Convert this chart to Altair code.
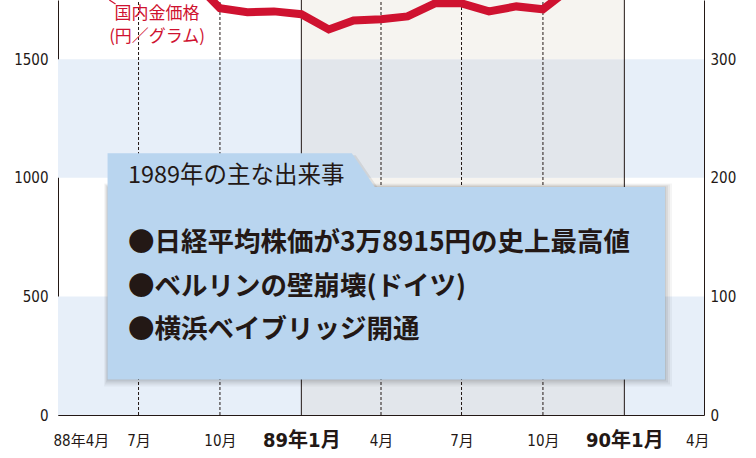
import altair as alt
import pandas as pd

# 国内金価格（円／グラム）の月次推移
months = [
    "1988-04-01", "1988-05-01", "1988-06-01", "1988-07-01", "1988-08-01",
    "1988-09-01", "1988-10-01", "1988-11-01", "1988-12-01", "1989-01-01",
    "1989-02-01", "1989-03-01", "1989-04-01", "1989-05-01", "1989-06-01",
    "1989-07-01", "1989-08-01", "1989-09-01", "1989-10-01", "1989-11-01",
    "1989-12-01", "1990-01-01", "1990-02-01", "1990-03-01", "1990-04-01",
]
gold_price = [
    1930, 1900, 1880, 1850, 1840, 1830, 1715, 1698, 1702, 1690,
    1626, 1664, 1669, 1681, 1736, 1736, 1702, 1723, 1711, 1800,
    1880, 1900, 1950, 1990, 1970,
]

# 目盛り
quarter_ticks = ["1988-04-01", "1988-07-01", "1988-10-01", "1989-01-01", "1989-04-01",
                 "1989-07-01", "1989-10-01", "1990-01-01", "1990-04-01"]
quarter_labels = ["88年4月", "7月", "10月", "89年1月", "4月", "7月", "10月", "90年1月", "4月"]
year_starts = ["1989-01-01", "1990-01-01"]
left_ticks = [0, 500, 1000, 1500]
right_ticks = [0, 100, 200, 300]

# 1989年の出来事
event_title = "1989年の主な出来事"
events = [
    "●日経平均株価が3万8915円の史上最高値",
    "●ベルリンの壁崩壊(ドイツ)",
    "●横浜ベイブリッジ開通",
]

X_START, X_END = "1988-04-01", "1990-04-01"
Y_MAX, Y2_MAX = 1750, 350

INK = "#231815"
RED = "#cf1230"
BLUE_BAND = "#e7eff9"
SHADE_ON_BLUE = "#e2e6eb"
SHADE_ON_WHITE = "#f6f4f0"
BOX = "#b9d5ef"
NUM_FONT = "Liberation Sans Narrow, DejaVu Sans Condensed, Noto Sans CJK JP, sans-serif"
JP_FONT = "Noto Sans CJK JP"


def ms(s):
    return int(pd.Timestamp(s, tz="UTC").timestamp() * 1000)


x_scale = alt.Scale(type="utc", domain=[ms(X_START), ms(X_END)])
y_scale = alt.Scale(domain=[0, Y_MAX], nice=False, zero=True)

label_array = "[" + ",".join("'" + s + "'" for s in quarter_labels) + "]"
is_jan = "utcmonth(datum.value) == 0"
x_axis = alt.Axis(
    values=[ms(d) for d in quarter_ticks],
    labelExpr=label_array + "[round(((utcyear(datum.value) - 1988) * 12 + utcmonth(datum.value) - 3) / 3)]",
    ticks=False, grid=False, title=None,
    domainColor=INK, domainWidth=1,
    labelFont=NUM_FONT, labelColor=INK,
    labelFontSize={"expr": is_jan + " ? 20 : 15"},
    labelFontWeight={"expr": is_jan + " ? 'bold' : 'normal'"},
    labelBaseline="middle", labelPadding=25,
    labelFlush=True, labelFlushOffset=5,
)
y_axis = alt.Axis(
    values=left_ticks, orient="left", ticks=False, grid=False, title=None, format="d",
    domainColor=INK, domainWidth=1,
    labelFont=NUM_FONT, labelColor=INK, labelFontSize=15, labelPadding=10,
)


def X(field):
    return alt.X(field, type="temporal", scale=x_scale, axis=x_axis, title=None)


def Y(field):
    return alt.Y(field, type="quantitative", scale=y_scale, axis=y_axis, title=None)


# 背景の帯と1989年の網掛け
band_rows = [
    (X_START, X_END, 0, 500, "blue"),
    (X_START, X_END, 1000, 1500, "blue"),
    (year_starts[0], year_starts[1], 0, 500, "shade_b"),
    (year_starts[0], year_starts[1], 500, 1000, "shade_w"),
    (year_starts[0], year_starts[1], 1000, 1500, "shade_b"),
    (year_starts[0], year_starts[1], 1500, Y_MAX, "shade_w"),
]
bands_df = pd.DataFrame(
    [{"x0": ms(a), "x1": ms(b), "y0": c, "y1": d, "kind": k} for a, b, c, d, k in band_rows]
)
bands = alt.Chart(bands_df).mark_rect().encode(
    x=X("x0"), x2="x1",
    y=Y("y0"), y2="y1",
    color=alt.Color("kind:N", legend=None,
                    scale=alt.Scale(domain=["blue", "shade_b", "shade_w"],
                                    range=[BLUE_BAND, SHADE_ON_BLUE, SHADE_ON_WHITE])),
)

# 四半期の破線と年始の実線
dash_df = pd.DataFrame({"t": [ms(d) for d in quarter_ticks[1:-1] if d not in year_starts],
                        "lo": 0, "hi": Y_MAX})
year_df = pd.DataFrame({"t": [ms(d) for d in year_starts], "lo": 0, "hi": Y_MAX})
dashed = alt.Chart(dash_df).mark_rule(color=INK, strokeWidth=1, strokeDash=[3, 2]).encode(
    x=X("t"), y=Y("lo"), y2="hi")
solid = alt.Chart(year_df).mark_rule(color=INK, strokeWidth=1).encode(
    x=X("t"), y=Y("lo"), y2="hi")

# 金価格の折れ線
gold_df = pd.DataFrame({"t": [ms(m) for m in months], "price": gold_price})
gold_line = alt.Chart(gold_df).mark_line(color=RED, strokeWidth=8, clip=True).encode(
    x=X("t"), y=Y("price"))

gold_label_df = pd.DataFrame({"t": [ms("1988-07-22")] * 2, "v": [1690, 1593],
                              "txt": ["国内金価格", "(円／グラム)"]})
gold_label = alt.Chart(gold_label_df).mark_text(
    color=RED, font=JP_FONT, fontSize=17, align="center", baseline="middle").encode(
    x=X("t"), y=Y("v"), text="txt:N")
leader_df = pd.DataFrame({"t0": [ms("1988-05-29")], "t1": [ms("1988-06-05")],
                          "v0": [Y_MAX], "v1": [1733]})
leader = alt.Chart(leader_df).mark_rule(color=RED, strokeWidth=1.2, clip=True).encode(
    x=X("t0"), x2="t1", y=Y("v0"), y2="v1")

# 出来事の囲み
BOX_L, BOX_R = ms("1988-05-27"), ms("1990-02-16")
TAB_SLANT0, TAB_SLANT1 = ms("1989-02-27"), ms("1989-03-25")
TAB_TOP, BODY_TOP, BODY_BOTTOM = 1104, 961, 150

body_df = pd.DataFrame({"x0": [BOX_L], "x1": [BOX_R], "y0": [BODY_BOTTOM], "y1": [BODY_TOP]})
tab_df = pd.DataFrame({"t": [BOX_L, TAB_SLANT0, TAB_SLANT1],
                       "top": [TAB_TOP, TAB_TOP, BODY_TOP],
                       "bottom": [BODY_TOP, BODY_TOP, BODY_TOP]})

shadows = []
for dx, dy, op in [(1, 1, 0.07), (3, 3, 0.06), (5, 5, 0.05), (7, 7, 0.04)]:
    shadows.append(
        alt.Chart(body_df).mark_rect(color="#000000", opacity=op,
                                     xOffset=-dx / 2, x2Offset=dx, yOffset=dy, y2Offset=-dx / 2).encode(
            x=X("x0"), x2="x1", y=Y("y0"), y2="y1"))
tab_shadow = alt.Chart(tab_df).mark_area(color="#000000", opacity=0.08, xOffset=4, yOffset=2).encode(
    x=X("t"), y=Y("top"), y2="bottom")
body = alt.Chart(body_df).mark_rect(color=BOX).encode(x=X("x0"), x2="x1", y=Y("y0"), y2="y1")
tab = alt.Chart(tab_df).mark_area(color=BOX).encode(x=X("t"), y=Y("top"), y2="bottom")

TEXT_X = ms("1988-06-19")
title_df = pd.DataFrame({"t": [TEXT_X], "v": [1007], "txt": [event_title]})
title_text = alt.Chart(title_df).mark_text(
    color=INK, font=JP_FONT, fontSize=23.5, align="left", baseline="middle").encode(
    x=X("t"), y=Y("v"), text="txt:N")
events_df = pd.DataFrame({"t": [TEXT_X] * 3, "v": [725, 539, 358], "txt": events})
events_text = alt.Chart(events_df).mark_text(
    color=INK, font=JP_FONT, fontSize=26.5, fontWeight="bold", align="left", baseline="middle").encode(
    x=X("t"), y=Y("v"), text="txt:N")

main = alt.layer(bands, dashed, solid, gold_line, leader, gold_label,
                 tab_shadow, *shadows, body, tab, title_text, events_text)

right_axis = alt.Chart(pd.DataFrame({"v": right_ticks})).mark_point(opacity=0).encode(
    y=alt.Y("v:Q", title=None,
            scale=alt.Scale(domain=[0, Y2_MAX], nice=False),
            axis=alt.Axis(values=right_ticks, orient="right", ticks=False, grid=False,
                          domainColor=INK, domainWidth=1, labelFont=NUM_FONT,
                          labelColor=INK, labelFontSize=15, labelPadding=6)))

chart = alt.layer(main, right_axis).resolve_scale(y="independent").properties(
    width=646, height=415,
    autosize=alt.AutoSizeParams(type="none"),
    padding={"left": 58, "top": 0, "right": 52, "bottom": 43},
    background="white",
).configure_view(strokeWidth=0).configure_axis(zindex=1)

chart.save("out.html", embed_options={"renderer": "svg", "actions": False})
